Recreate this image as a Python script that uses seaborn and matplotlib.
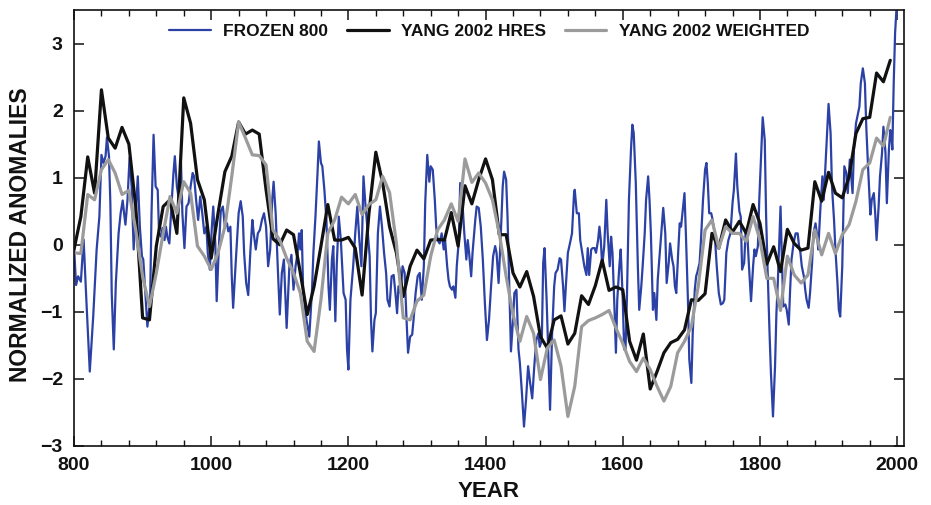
import numpy as np
import pandas as pd
import matplotlib
matplotlib.use("Agg")
import matplotlib.pyplot as plt
from matplotlib.ticker import MultipleLocator
import seaborn as sns

# ---------------- data ----------------
decade_years = list(range(800, 2000, 10))

yang_hres = [-0.07, 0.42, 1.31, 0.77, 2.31, 1.59, 1.44, 1.75, 1.50, 0.57,
             -1.09, -1.12, -0.02, 0.57, 0.67, 0.17, 2.19, 1.81, 0.97, 0.67,
             -0.20, 0.47, 1.09, 1.32, 1.83, 1.65, 1.71, 1.65, 0.82, 0.09,
             0.00, 0.22, 0.15, -0.42, -1.04, -0.62, -0.02, 0.60, 0.07, 0.07,
             0.11, -0.05, -0.75, 0.47, 1.38, 0.92, 0.27, -0.12, -0.77, -0.32,
             -0.08, -0.21, 0.07, 0.08, 0.07, 0.48, -0.02, 0.88, 0.61, 0.97,
             1.28, 0.97, 0.15, 0.15, -0.42, -0.63, -0.40, -0.77, -1.37, -1.54,
             -1.12, -1.06, -1.48, -1.32, -0.76, -0.89, -0.61, -0.23, -0.68, -0.63,
             -0.67, -1.44, -1.72, -1.33, -2.15, -1.89, -1.61, -1.46, -1.41, -1.27,
             -0.82, -0.83, -0.73, 0.17, -0.05, 0.37, 0.19, 0.35, 0.17, 0.60,
             0.32, -0.29, -0.03, -0.40, 0.23, 0.02, -0.08, -0.05, 0.94, 0.65,
             1.08, 0.77, 0.70, 1.02, 1.66, 1.88, 1.90, 2.56, 2.43, 2.75]

yang_weighted = [-0.12, -0.13, 0.75, 0.67, 1.12, 1.27, 1.07, 0.75, 0.81, 0.22,
                 -0.47, -0.92, -0.42, 0.17, 0.72, 0.47, 0.94, 0.77, -0.02, -0.17,
                 -0.37, -0.12, 0.27, 1.02, 1.83, 1.59, 1.34, 1.33, 1.19, 0.22,
                 0.07, -0.20, -0.42, -0.72, -1.44, -1.59, -0.82, 0.17, 0.37, 0.71,
                 0.61, 0.75, 0.45, 0.60, 0.67, 1.02, 0.78, 0.02, -1.09, -1.12,
                 -0.84, -0.75, -0.17, 0.22, 0.37, 0.61, 0.35, 1.28, 0.93, 1.07,
                 0.92, 0.67, 0.17, -0.47, -1.04, -1.44, -1.07, -1.32, -2.01, -1.54,
                 -1.42, -1.81, -2.56, -2.11, -1.22, -1.13, -1.09, -1.04, -0.98, -1.24,
                 -1.47, -1.74, -1.89, -1.69, -1.86, -2.11, -2.33, -2.11, -1.61, -1.44,
                 -1.22, -0.62, 0.22, 0.37, -0.05, 0.27, 0.17, 0.17, 0.05, 0.42,
                 0.07, -0.50, -0.50, -0.98, -0.17, -0.45, -0.57, -0.45, 0.22, -0.15,
                 0.17, -0.13, 0.15, 0.30, 0.65, 1.12, 1.22, 1.59, 1.47, 1.90]

frozen_years = [800, 803, 806, 810, 814, 818, 823, 828, 833, 837, 840, 843, 846, 848, 851,
                853, 855, 858, 861, 865, 868, 871, 873, 875, 878, 881, 884, 887, 891, 893,
                896, 899, 901, 904, 907, 911, 913, 916, 919, 922, 924, 927, 929, 932, 934,
                936, 939, 942, 945, 947, 950, 953, 956, 958, 961, 964, 967, 970, 973, 975,
                978, 981, 984, 987, 990, 993, 995, 998, 1001, 1003, 1006, 1008, 1011, 1014, 1017,
                1020, 1023, 1025, 1028, 1030, 1032, 1036, 1040, 1043, 1046, 1048, 1051, 1054, 1057, 1060,
                1062, 1065, 1068, 1071, 1074, 1077, 1080, 1083, 1086, 1089, 1091, 1094, 1097, 1100, 1103,
                1106, 1110, 1114, 1117, 1120, 1123, 1126, 1128, 1130, 1132, 1134, 1137, 1139, 1143, 1147,
                1149, 1152, 1155, 1157, 1160, 1162, 1165, 1168, 1171, 1173, 1176, 1178, 1181, 1183, 1186,
                1189, 1193, 1196, 1198, 1200, 1203, 1207, 1210, 1213, 1216, 1219, 1222, 1225, 1228, 1231,
                1233, 1235, 1238, 1240, 1243, 1246, 1249, 1252, 1255, 1257, 1260, 1263, 1266, 1269, 1271,
                1273, 1276, 1279, 1282, 1285, 1287, 1290, 1293, 1295, 1298, 1301, 1304, 1307, 1310, 1312,
                1315, 1318, 1320, 1323, 1326, 1328, 1330, 1333, 1336, 1339, 1341, 1344, 1346, 1348, 1351,
                1353, 1356, 1358, 1361, 1363, 1366, 1369, 1372, 1374, 1376, 1379, 1381, 1385, 1387, 1390,
                1393, 1396, 1399, 1402, 1405, 1408, 1411, 1414, 1416, 1419, 1422, 1425, 1427, 1430, 1432,
                1435, 1437, 1440, 1442, 1445, 1448, 1450, 1453, 1456, 1459, 1462, 1465, 1468, 1471, 1474,
                1477, 1479, 1482, 1484, 1486, 1489, 1492, 1494, 1497, 1500, 1502, 1505, 1508, 1510, 1513,
                1515, 1517, 1520, 1523, 1526, 1529, 1530, 1533, 1536, 1538, 1541, 1544, 1547, 1549, 1551,
                1554, 1556, 1559, 1561, 1564, 1566, 1568, 1570, 1573, 1576, 1578, 1581, 1583, 1585, 1588,
                1590, 1592, 1595, 1597, 1600, 1602, 1604, 1606, 1609, 1612, 1614, 1616, 1619, 1622, 1624,
                1627, 1629, 1632, 1634, 1637, 1639, 1641, 1644, 1646, 1649, 1651, 1654, 1657, 1659, 1662,
                1664, 1667, 1669, 1672, 1674, 1676, 1678, 1681, 1683, 1685, 1687, 1690, 1692, 1695, 1697,
                1700, 1702, 1705, 1707, 1709, 1712, 1714, 1717, 1720, 1722, 1724, 1726, 1729, 1731, 1734,
                1737, 1740, 1743, 1746, 1748, 1751, 1754, 1757, 1760, 1762, 1765, 1767, 1770, 1772, 1774,
                1777, 1779, 1782, 1784, 1787, 1790, 1792, 1794, 1797, 1799, 1802, 1804, 1807, 1809, 1811,
                1814, 1816, 1819, 1822, 1824, 1826, 1830, 1832, 1834, 1837, 1839, 1842, 1844, 1846, 1849,
                1852, 1855, 1857, 1859, 1861, 1864, 1866, 1868, 1871, 1873, 1876, 1878, 1881, 1883, 1885,
                1888, 1891, 1893, 1895, 1898, 1900, 1903, 1905, 1908, 1910, 1913, 1915, 1917, 1920, 1922,
                1923, 1926, 1928, 1931, 1933, 1935, 1937, 1940, 1942, 1945, 1947, 1950, 1953, 1955, 1958,
                1961, 1963, 1966, 1968, 1970, 1973, 1975, 1978, 1980, 1983, 1985, 1988, 1990, 1992, 1993,
                1995, 1997, 1999, 2000]

frozen_800 = [-0.02, -0.60, -0.47, -0.55, 0.08, -0.82, -1.89, -1.07, -0.07, 0.42, 1.34, 1.22, 1.32, 1.60, 1.32,
              0.62, -0.72, -1.56, -0.57, 0.17, 0.47, 0.66, 0.47, 0.30, 0.67, 1.30, 0.87, -0.07, 0.67, 1.02,
              0.27, -0.17, -0.22, -0.72, -1.22, -0.82, 0.47, 1.64, 0.87, 0.82, 0.17, 0.12, 0.25, 0.07, 0.27,
              0.12, 0.02, 0.57, 1.07, 1.32, 0.87, 0.67, 1.22, 0.47, -0.05, 0.57, 0.62, 0.87, 1.07, 1.02,
              0.67, 0.37, 0.72, 0.47, 0.17, 0.27, -0.12, -0.37, 0.27, 0.57, 0.02, -0.84, -0.07, 0.50, 0.57,
              0.27, 0.32, 0.20, 0.27, -0.47, -0.94, -0.22, 0.47, 0.65, 0.42, -0.12, -0.57, -0.75, -0.12, 0.37,
              0.17, -0.07, 0.17, 0.22, 0.37, 0.47, 0.27, -0.32, -0.07, 0.67, 0.94, 0.47, -0.32, -1.04, -0.42,
              -0.22, -1.24, -0.32, -0.15, -0.67, -0.32, -0.12, 0.17, -0.07, 0.22, -0.67, -0.97, -1.12, -1.37, -0.67,
              -0.12, 0.42, 1.07, 1.54, 1.22, 1.17, 0.82, 0.37, -0.62, -0.97, -0.22, -0.02, -1.14, -0.32, 0.42,
              0.07, -0.72, -0.82, -1.56, -1.86, -0.82, -0.32, 0.17, 0.57, 0.07, -0.32, 1.02, 0.57, 0.22, -0.17,
              -1.12, -1.59, -1.12, -1.02, 0.17, 0.57, 0.27, -0.12, -0.42, -0.82, -0.92, -0.47, -0.45, -0.77, -1.02,
              -0.62, -0.72, -0.32, -0.42, -1.17, -1.61, -1.37, -1.34, -1.12, -0.72, -0.47, -0.42, -0.82, -0.32, 0.62,
              1.34, 0.94, 1.17, 1.12, 0.67, 0.27, 0.07, 0.02, 0.17, -0.07, 0.07, -0.32, -0.52, -0.62, -0.67,
              -0.62, -0.79, -0.32, 0.07, 0.92, 0.67, 0.17, -0.22, 0.07, -0.12, -0.47, -0.12, 0.37, 0.57, 0.55,
              0.27, -0.22, -0.87, -1.42, -1.12, -0.62, -0.17, -0.02, -0.12, -0.57, 0.10, 0.87, 1.09, 0.97, 0.42,
              -0.82, -1.59, -1.12, -0.72, -0.67, -1.56, -1.76, -2.21, -2.71, -2.31, -1.81, -2.06, -2.29, -1.81, -1.42,
              -1.32, -1.52, -1.42, -0.27, -0.05, -0.82, -1.81, -2.46, -1.32, -0.62, -0.42, -0.37, -0.20, -0.22, -0.62,
              -0.99, -0.62, -0.12, 0.02, 0.17, 0.77, 0.82, 0.47, 0.47, 0.07, -0.12, -0.32, -0.45, -0.05, -0.45,
              -0.07, -0.05, -0.05, -0.12, 0.07, 0.27, 0.07, -0.32, -0.02, 0.67, 0.17, -0.32, 0.12, -0.12, -0.97,
              -1.61, -0.82, -0.32, -0.07, -0.82, -1.56, -1.56, -0.82, 0.67, 1.42, 1.79, 1.66, 0.92, -0.32, -0.97,
              -0.62, -0.32, 0.17, 0.67, 1.02, 0.67, 0.17, -0.97, -0.72, -1.12, -0.52, -0.12, 0.27, 0.55, 0.17,
              -0.57, -0.27, 0.02, -0.22, -0.32, -0.62, -0.72, -0.07, 0.32, 0.27, 0.47, 0.77, 0.17, -0.82, -1.71,
              -2.06, -1.32, -0.67, -0.47, -0.40, -0.27, 0.07, 0.67, 1.12, 1.22, 0.92, 0.47, 0.47, 0.37, 0.17,
              -0.32, -0.72, -0.89, -0.87, -0.82, -0.12, 0.07, 0.17, 0.62, 0.82, 1.36, 0.87, 0.50, 0.42, -0.37,
              -0.27, 0.17, 0.07, -0.32, -0.84, -0.32, -0.07, -0.17, -0.02, 0.67, 1.42, 1.90, 1.56, 0.42, -0.32,
              -1.32, -1.91, -2.56, -1.81, -1.02, -0.57, 0.57, -0.22, -0.92, -0.89, -0.97, -1.19, -0.67, -0.22, 0.02,
              0.17, 0.17, -0.02, -0.12, -0.32, -0.47, -0.67, -0.82, -0.94, -0.72, -0.27, 0.17, 0.32, 0.17, -0.07,
              0.52, 1.02, 0.67, 1.07, 1.66, 2.10, 1.66, 0.87, 0.37, -0.07, -0.57, -0.97, -1.07, -0.32, 0.67,
              1.17, 1.07, 0.77, 1.27, 1.02, 0.77, 1.42, 1.81, 1.91, 2.06, 2.41, 2.63, 2.41, 1.76, 1.07,
              0.45, 0.67, 0.77, 0.47, 0.07, 0.57, 1.02, 1.37, 1.76, 1.37, 0.62, 1.42, 1.71, 1.56, 1.42,
              2.41, 3.15, 3.50, 3.70]

labels = ["FROZEN 800", "YANG 2002 HRES", "YANG 2002 WEIGHTED"]
colors = ["#2c41a6", "#111111", "#9b9b9b"]

# ---------------- figure ----------------
sns.set_theme(style="ticks")
plt.rcParams["font.family"] = ["Liberation Sans", "DejaVu Sans"]

W, H = 931, 505
fig = plt.figure(figsize=(W / 100, H / 100), dpi=100)
ax = fig.add_axes([74 / W, 1 - 446 / H, (904 - 74) / W, (446 - 10) / H])

df_f = pd.DataFrame({"year": frozen_years, "value": frozen_800})
df_h = pd.DataFrame({"year": decade_years, "value": yang_hres})
df_w = pd.DataFrame({"year": decade_years, "value": yang_weighted})

sns.lineplot(data=df_f, x="year", y="value", ax=ax, color=colors[0], lw=1.6,
             label=labels[0], estimator=None, sort=True)
sns.lineplot(data=df_h, x="year", y="value", ax=ax, color=colors[1], lw=2.3,
             label=labels[1], estimator=None, sort=True)
sns.lineplot(data=df_w, x="year", y="value", ax=ax, color=colors[2], lw=2.3,
             label=labels[2], estimator=None, sort=True)

ax.set_xlim(800, 2010)
ax.set_ylim(-3, 3.5)
ax.xaxis.set_major_locator(MultipleLocator(200))
ax.xaxis.set_minor_locator(MultipleLocator(40))
ax.yaxis.set_major_locator(MultipleLocator(1))

for s in ax.spines.values():
    s.set_linewidth(1.2)
    s.set_color("#111111")
    s.set_visible(True)

ax.tick_params(which="both", direction="in", top=True, right=True, color="#111111")
ax.tick_params(which="major", length=7, width=1.1, pad=8)
ax.tick_params(which="minor", length=4, width=1.0)

for lab in ax.get_xticklabels() + ax.get_yticklabels():
    lab.set_fontweight("bold")
    lab.set_fontsize(14)
    lab.set_color("#111111")

ax.set_xlabel("YEAR", fontsize=16, fontweight="bold", color="#111111", labelpad=5)
ax.set_ylabel("NORMALIZED ANOMALIES", fontsize=16.5, fontweight="bold", color="#111111")
ax.yaxis.set_label_coords(-0.0506, 0.484)

leg = ax.legend(loc="upper center", bbox_to_anchor=(0.5, 1.0), ncol=3, frameon=False,
                prop=dict(weight="bold", size=12.5), handlelength=2.4, handletextpad=0.7,
                columnspacing=1.1, borderaxespad=0.4)
for t in leg.get_texts():
    t.set_color("#111111")

fig.savefig("out.png", dpi=100)
